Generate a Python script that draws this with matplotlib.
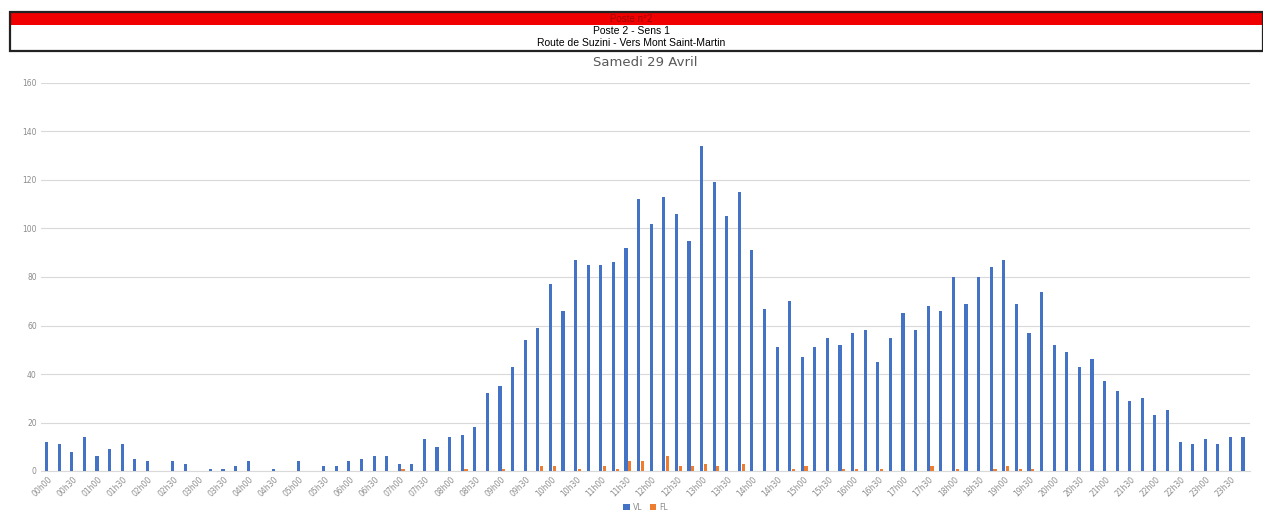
import numpy as np
import matplotlib
matplotlib.use("Agg")
import matplotlib.pyplot as plt
from matplotlib.patches import Rectangle

# données de comptage par quart d'heure
heures = [f"{h:02d}h{m:02d}" for h in range(24) for m in (0, 15, 30, 45)]

vl = [12, 11, 8, 14, 6, 9, 11, 5, 4, 0, 4, 3, 0, 1, 1, 2,
      4, 0, 1, 0, 4, 0, 2, 2, 4, 5, 6, 6, 3, 3, 13, 10,
      14, 15, 18, 32, 35, 43, 54, 59, 77, 66, 87, 85, 85, 86, 92, 112,
      102, 113, 106, 95, 134, 119, 105, 115, 91, 67, 51, 70, 47, 51, 55, 52,
      57, 58, 45, 55, 65, 58, 68, 66, 80, 69, 80, 84, 87, 69, 57, 74,
      52, 49, 43, 46, 37, 33, 29, 30, 23, 25, 12, 11, 13, 11, 14, 14]

fl = [0, 0, 0, 0, 0, 0, 0, 0, 0, 0, 0, 0, 0, 0, 0, 0,
      0, 0, 0, 0, 0, 0, 0, 0, 0, 0, 0, 0, 1, 0, 0, 0,
      0, 1, 0, 0, 1, 0, 0, 2, 2, 0, 1, 0, 2, 1, 4, 4,
      0, 6, 2, 2, 3, 2, 0, 3, 0, 0, 0, 1, 2, 0, 0, 1,
      1, 0, 1, 0, 0, 0, 2, 0, 1, 0, 0, 1, 2, 1, 1, 0,
      0, 0, 0, 0, 0, 0, 0, 0, 0, 0, 0, 0, 0, 0, 0, 0]

yticks = [0, 20, 40, 60, 80, 100, 120, 140, 160]

W, H = 1263, 517
fig = plt.figure(figsize=(W / 100, H / 100), dpi=100)

# bandeau d'en-tête
def fx(px):
    return px / W

def fy(py):
    return 1 - py / H

fig.patches.append(Rectangle((fx(10), fy(25)), fx(1263 - 10), fy(12) - fy(25),
                             transform=fig.transFigure, facecolor="#F00000",
                             edgecolor="none", zorder=1))
fig.patches.append(Rectangle((fx(10), fy(50.5)), fx(1263 - 10), fy(12) - fy(50.5),
                             transform=fig.transFigure, facecolor="none",
                             edgecolor="#222222", linewidth=1.6, zorder=2))
fig.text(0.5, fy(18.5), "Poste n°2", ha="center", va="center", fontsize=7,
         color="#A00000", family="Liberation Sans")
fig.text(0.5, fy(31.5), "Poste 2 - Sens 1", ha="center", va="center", fontsize=7.5,
         color="black", family="Liberation Sans")
fig.text(0.5, fy(43.5), "Route de Suzini - Vers Mont Saint-Martin", ha="center",
         va="center", fontsize=7.5, color="black", family="Liberation Sans")

ax = fig.add_axes([41 / W, 46 / H, (1250 - 41) / W, (471 - 83) / H])
x = np.arange(len(heures))
larg = 0.25
ax.bar(x - 0.05, vl, width=larg, color="#4472C4", label="VL", zorder=3)
ax.bar(x + 0.25, fl, width=larg, color="#ED7D31", label="FL", zorder=3)

ax.set_xlim(-0.5, len(heures) - 0.5)
ax.set_ylim(0, 160)
ax.set_yticks(yticks)
ax.set_yticklabels([str(v) for v in yticks], fontsize=5.5, color="#8C8C8C")
ax.set_xticks(x[::2])
ax.set_xticklabels(heures[::2], rotation=45, ha="right", rotation_mode="anchor",
                   fontsize=5.5, color="#8C8C8C")
ax.tick_params(axis="both", length=0, pad=3)
ax.grid(axis="y", color="#D9D9D9", linewidth=0.8, zorder=0)
for s in ["top", "right", "left"]:
    ax.spines[s].set_visible(False)
ax.spines["bottom"].set_color("#D9D9D9")

ax.set_title("Samedi 29 Avril", fontsize=9.5, color="#595959", pad=12)

ax.legend(loc="center", bbox_to_anchor=(0.5, -0.094), ncol=2, frameon=False,
          fontsize=5.5, handlelength=0.8, handleheight=0.8, columnspacing=1.0,
          handletextpad=0.4, labelcolor="#8C8C8C", borderpad=0.1)

fig.savefig("out.png", dpi=100, facecolor="white")
